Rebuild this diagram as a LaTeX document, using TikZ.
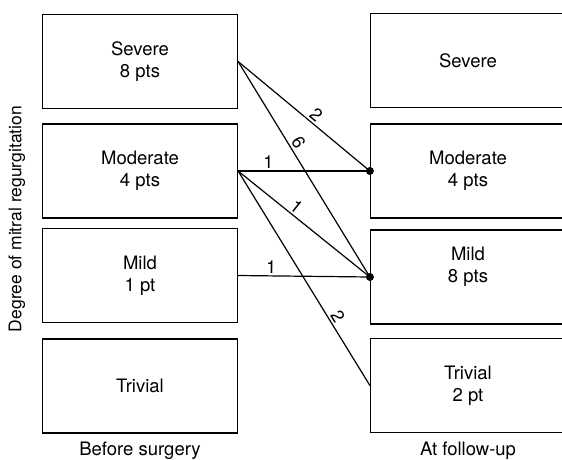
\documentclass[tikz,border=0pt]{standalone}
\usepackage{fontspec}
\setmainfont{TeX Gyre Heros}
\usepackage{tikz}

\begin{document}
\begin{tikzpicture}[x=1pt,y=-1pt,
    caixa/.style={draw, line width=1.2pt, minimum width=195pt, minimum height=94pt,
        align=center, font=\fontsize{18.5}{22}\selectfont},
    num/.style={font=\fontsize{18}{18}\selectfont, sloped, above, inner sep=2pt},
    ponto/.style={circle, fill=black, inner sep=0pt, minimum size=8pt},
    linha/.style={line width=1.2pt}]
    \useasboundingbox (0,0) rectangle (562,459);

    % Antes da cirurgia
    \node[caixa] (sevL) at (140,61.5) {Severe\\8 pts};
    \node[caixa] (modL) at (140,171) {Moderate\\4 pts};
    \node[caixa] (milL) at (140,275.5) {Mild\\1 pt};
    \node[caixa] (triL) at (140,386) {Trivial};

    % No seguimento
    \node[caixa] (sevR) at (468,60.5) {Severe};
    \node[caixa] (modR) at (468,171) {Moderate\\4 pts};
    \node[caixa] (milR) at (468,277) {Mild\\8 pts\rule[-24pt]{0pt}{24pt}};
    \node[caixa] (triR) at (468,385.5) {Trivial\\2 pt};

    % Ligacoes
    \draw[linha] (sevL.east) -- node[num, pos=0.55] {2} (modR.west);
    \draw[linha] (sevL.east) -- node[num, pos=0.4] {6} (milR.west);
    \draw[linha] (modL.east) -- node[num, pos=0.23] {1} (modR.west);
    \draw[linha] (modL.east) -- node[num, pos=0.4] {1} (milR.west);
    \draw[linha] (modL.east) -- node[num, pos=0.7] {2} (triR.west);
    \draw[linha] (milL.east) -- node[num, pos=0.25] {1} (milR.west);
    \node[ponto] (pMod) at (modR.west) {};
    \node[ponto] (pMil) at (milR.west) {};

    % Eixos
    \node[rotate=90, font=\fontsize{17.5}{17.5}\selectfont] (eixo) at (17,219) {Degree of mitral regurgitation};
    \node[font=\fontsize{18.5}{18.5}\selectfont] (antes) at (140,451) {Before surgery};
    \node[font=\fontsize{18.5}{18.5}\selectfont] (depois) at (468,451) {At follow-up};
\end{tikzpicture}
\end{document}
